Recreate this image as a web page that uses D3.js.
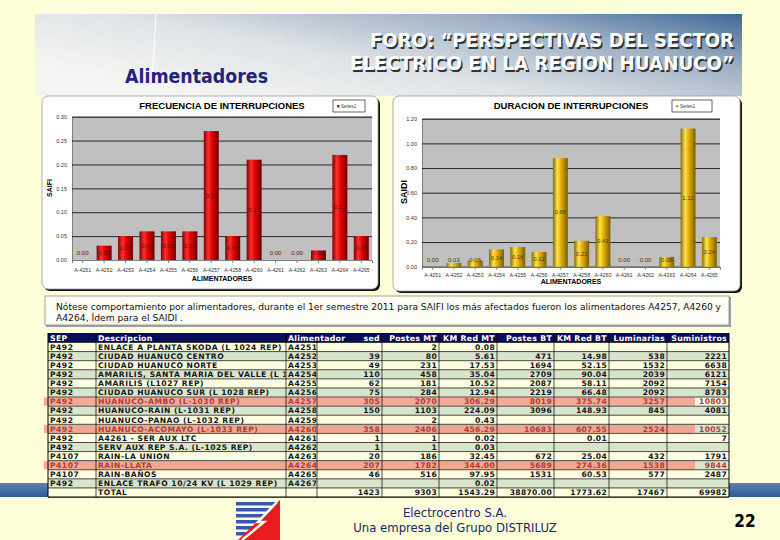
<!DOCTYPE html>
<html>
<head>
<meta charset="utf-8">
<script src="https://cdn.jsdelivr.net/npm/d3@7"></script>
<style>
  body { margin: 0; background: #fefed8; }
  svg { display: block; }
</style>
</head>
<body>
<div id="slide"></div>
<script>
// Chart data
const feeders = ["A-4251", "A-4252", "A-4253", "A-4254", "A-4255", "A-4256", "A-4257",
                 "A-4258", "A-4260", "A-4261", "A-4262", "A-4263", "A-4264", "A-4265"];
const saifi = [0.00, 0.03, 0.05, 0.06, 0.06, 0.06, 0.27, 0.05, 0.21, 0.00, 0.00, 0.02, 0.22, 0.05];
const saidi = [0.00, 0.03, 0.05, 0.14, 0.16, 0.12, 0.88, 0.21, 0.41, 0.00, 0.00, 0.08, 1.12, 0.24];
const saifiTicks = [0, 0.05, 0.10, 0.15, 0.20, 0.25, 0.30];
const saidiTicks = [0, 0.20, 0.40, 0.60, 0.80, 1.00, 1.20];

// Table data
const tableHeader = ["SEP", "Descripcion", "Alimentador", "sed", "Postes MT", "KM Red MT",
                     "Postes BT", "KM Red BT", "Luminarias", "Suministros"];
const sepCol = ["P492", "P492", "P492", "P492", "P492", "P492", "P492", "P492", "P492", "P492",
                "P492", "P492", "P4107", "P4107", "P4107", "P492"];
const descCol = ["ENLACE A PLANTA SKODA (L 1024 REP)", "CIUDAD HUANUCO CENTRO", "CIUDAD HUANUCO NORTE",
                 "AMARILIS, SANTA MARIA DEL VALLE (L 1", "AMARILIS (L1027 REP)", "CIUDAD HUANUCO SUR (L 1028 REP)",
                 "HUANUCO-AMBO (L-1030 REP)", "HUANUCO-RAIN (L-1031 REP)", "HUANUCO-PANAO (L-1032 REP)",
                 "HUANUCO-ACOMAYO (L-1033 REP)", "A4261 - SER AUX LTC", "SERV AUX REP S.A. (L-1025 REP)",
                 "RAIN-LA UNION", "RAIN-LLATA", "RAIN-BAÑOS", "ENLACE TRAFO 10/24 KV (L 1029 REP)"];
const alimCol = ["A4251", "A4252", "A4253", "A4254", "A4255", "A4256", "A4257", "A4258", "A4259",
                 "A4260", "A4261", "A4262", "A4263", "A4264", "A4265", "A4267"];
const sedCol = ["", "39", "49", "110", "62", "75", "305", "150", "", "358", "1", "1", "20", "207", "46", ""];
const postesMT = ["2", "80", "231", "458", "181", "284", "2070", "1103", "2", "2406", "1", "1", "186", "1782", "516", ""];
const kmMT = ["0.08", "5.61", "17.53", "35.04", "10.52", "12.94", "306.29", "224.09", "0.43", "456.29",
              "0.02", "0.03", "32.45", "344.00", "97.95", "0.02"];
const postesBT = ["", "471", "1694", "2709", "2087", "2219", "8019", "3096", "", "10683", "", "", "672", "5689", "1531", ""];
const kmBT = ["", "14.98", "52.15", "90.04", "58.11", "66.48", "375.74", "148.93", "", "607.55",
              "0.01", "", "25.04", "274.36", "60.53", ""];
const lumin = ["", "538", "1532", "2039", "2092", "2092", "3257", "845", "", "2524", "", "", "432", "1538", "577", ""];
const sumin = ["", "2221", "6638", "6121", "7154", "8783", "10803", "4081", "", "10052", "7", "", "1791", "9844", "2487", ""];
const totalRow = ["", "TOTAL", "", "1423", "9303", "1543.29", "38870.00", "1773.62", "17467", "69982"];
const highlightRows = [6, 9, 13];

const W = 780, H = 540;
const svg = d3.select("#slide").append("svg").attr("width", W).attr("height", H);
const defs = svg.append("defs");

// Background
svg.append("rect").attr("width", W).attr("height", H).attr("fill", "#fefed8");

// Header gradient band
const hg = defs.append("linearGradient").attr("id", "hdr")
  .attr("x1", "0%").attr("y1", "60%").attr("x2", "100%").attr("y2", "0%");
hg.append("stop").attr("offset", "0%").attr("stop-color", "#f4f5f2");
hg.append("stop").attr("offset", "35%").attr("stop-color", "#dfe3e6");
hg.append("stop").attr("offset", "70%").attr("stop-color", "#9fb1c6");
hg.append("stop").attr("offset", "100%").attr("stop-color", "#3f6897");
svg.append("rect").attr("x", 35).attr("y", 14).attr("width", 707).attr("height", 82).attr("fill", "url(#hdr)");
svg.append("line").attr("x1", 156).attr("y1", 14).attr("x2", 152).attr("y2", 82)
  .attr("stroke", "#ffffff").attr("stroke-width", 1);

svg.append("text").attr("x", 125).attr("y", 83)
  .attr("font-family", "DejaVu Sans Condensed").attr("font-weight", "bold").attr("font-size", 19)
  .attr("fill", "#22237a").attr("textLength", 143).attr("lengthAdjust", "spacingAndGlyphs")
  .text("Alimentadores");

const titleLines = ["FORO: \u201CPERSPECTIVAS DEL SECTOR", "ELECTRICO EN LA REGION HUANUCO\u201D"];
const titleLeft = [370, 350];
titleLines.forEach((t, i) => {
  const yy = 47 + i * 23;
  [[1.5, "#333333"], [0, "#ffffff"]].forEach(([off, col]) => {
    svg.append("text").attr("x", titleLeft[i] + off).attr("y", yy + off)
      .attr("font-family", "DejaVu Sans Condensed").attr("font-weight", "bold").attr("font-size", 19.5)
      .attr("fill", col).attr("textLength", 734 - titleLeft[i]).attr("lengthAdjust", "spacingAndGlyphs")
      .text(t);
  });
});

// Bar gradients
function barGradient(id, stops) {
  const g = defs.append("linearGradient").attr("id", id)
    .attr("x1", "0%").attr("y1", "0%").attr("x2", "100%").attr("y2", "0%");
  stops.forEach(s => g.append("stop").attr("offset", s[0]).attr("stop-color", s[1]));
}
barGradient("redBar", [["0%", "#7c0000"], ["30%", "#ff3030"], ["55%", "#e30000"], ["100%", "#6e0000"]]);
barGradient("goldBar", [["0%", "#8a6800"], ["30%", "#ffe34a"], ["55%", "#e0b000"], ["100%", "#7a5c00"]]);

function drawChart(o) {
  const g = svg.append("g");
  // frame with shadow
  g.append("rect").attr("x", o.box[0] + 2).attr("y", o.box[1] + 2)
    .attr("width", o.box[2]).attr("height", o.box[3]).attr("rx", 6).attr("fill", "#111111");
  g.append("rect").attr("x", o.box[0]).attr("y", o.box[1])
    .attr("width", o.box[2]).attr("height", o.box[3]).attr("rx", 6)
    .attr("fill", "#ffffff").attr("stroke", "#9a9a9a").attr("stroke-width", 0.8);

  const x = d3.scaleBand().domain(feeders).range([o.plot[0], o.plot[1]]).paddingInner(0.3).paddingOuter(0.15);
  const y = d3.scaleLinear().domain([0, d3.max(o.ticks)]).range([o.plot[3], o.plot[2]]);

  g.append("rect").attr("x", o.plot[0]).attr("y", o.plot[2])
    .attr("width", o.plot[1] - o.plot[0]).attr("height", o.plot[3] - o.plot[2]).attr("fill", "#c0c0c0");

  const yAxis = g.append("g").attr("transform", `translate(${o.plot[0]},0)`)
    .call(d3.axisLeft(y).tickValues(o.ticks).tickFormat(d3.format(".2f"))
      .tickSize(-(o.plot[1] - o.plot[0])).tickPadding(5));
  yAxis.select(".domain").attr("stroke", "#808080");
  yAxis.selectAll(".tick line").attr("stroke", "#000000").attr("stroke-width", 0.8);
  yAxis.selectAll(".tick text").attr("font-family", "Liberation Sans").attr("font-size", 5.5).attr("fill", "#333");

  const xAxis = g.append("g").attr("transform", `translate(0,${o.plot[3]})`)
    .call(d3.axisBottom(x).tickSize(3).tickPadding(o.xPad));
  xAxis.select(".domain").attr("stroke", "#808080");
  xAxis.selectAll(".tick line").attr("stroke", "#808080");
  xAxis.selectAll(".tick text").attr("font-family", "Liberation Sans").attr("font-size", 5.2).attr("fill", "#333");

  g.selectAll(".bar").data(o.values).join("rect")
    .attr("x", (d, i) => x(feeders[i]))
    .attr("y", d => y(d))
    .attr("width", x.bandwidth())
    .attr("height", d => y(0) - y(d))
    .attr("fill", o.fill);

  g.selectAll(".val").data(o.values).join("text")
    .attr("x", (d, i) => x(feeders[i]) + x.bandwidth() / 2)
    .attr("y", d => Math.min(y(d / 2), y(0) - 7) + 2)
    .attr("text-anchor", "middle")
    .attr("font-family", "Liberation Sans").attr("font-size", 6)
    .attr("fill", o.labelColor)
    .text(d => d.toFixed(2));

  g.append("text").attr("x", (o.plot[0] + o.plot[1]) / 2).attr("y", o.box[1] + 13)
    .attr("text-anchor", "middle").attr("font-family", "Liberation Sans").attr("font-weight", "bold")
    .attr("font-size", 9.5).attr("fill", "#000").text(o.title);

  g.append("text").attr("transform", `translate(${o.yLab[0]},${o.yLab[1]}) rotate(-90)`)
    .attr("text-anchor", "middle").attr("font-family", "Liberation Sans").attr("font-weight", "bold")
    .attr("font-size", o.yLabSize).attr("fill", "#000").text(o.yTitle);

  g.append("text").attr("x", (o.plot[0] + o.plot[1]) / 2).attr("y", o.xLabY)
    .attr("text-anchor", "middle").attr("font-family", "Liberation Sans").attr("font-weight", "bold")
    .attr("font-size", 7).attr("fill", "#000").text("ALIMENTADORES");

  // legend
  g.append("rect").attr("x", o.legend[0]).attr("y", o.legend[1]).attr("width", o.legend[2]).attr("height", 12)
    .attr("fill", "#ffffff").attr("stroke", "#000").attr("stroke-width", 0.6);
  g.append("rect").attr("x", o.legend[0] + 4).attr("y", o.legend[1] + 5).attr("width", 2.5).attr("height", 2.5)
    .attr("fill", o.swatch);
  g.append("text").attr("x", o.legend[0] + 8).attr("y", o.legend[1] + 8)
    .attr("font-family", "Liberation Sans").attr("font-size", 4.5).attr("fill", "#333").text("Series1");
}

drawChart({
  box: [42, 96, 336, 193], plot: [72, 372, 116.7, 260], ticks: saifiTicks, values: saifi,
  fill: "url(#redBar)", labelColor: "#5a1010", title: "FRECUENCIA DE INTERRUPCIONES",
  yTitle: "SAIFI", yLab: [52, 188], yLabSize: 7, xLabY: 281, xPad: 5,
  legend: [333, 100, 32], swatch: "#e00000"
});
drawChart({
  box: [393, 96, 347, 195], plot: [422, 720, 118.7, 266.7], ticks: saidiTicks, values: saidi,
  fill: "url(#goldBar)", labelColor: "#4a3a00", title: "DURACION DE INTERRUPCIONES",
  yTitle: "SAIDI", yLab: [407, 192], yLabSize: 9, xLabY: 284, xPad: 4,
  legend: [672, 100, 40], swatch: "#e0b000"
});

// Note box
svg.append("rect").attr("x", 46).attr("y", 297).attr("width", 685).attr("height", 30)
  .attr("fill", "#a0a0a0");
svg.append("rect").attr("x", 45).attr("y", 296).attr("width", 684).attr("height", 29)
  .attr("fill", "#fdfdf6").attr("stroke", "#8c8c8c").attr("stroke-width", 0.8);
const noteLines = [
  "Nótese comportamiento por alimentadores, durante el 1er semestre 2011 para SAIFI los más afectados fueron los alimentadores A4257, A4260 y",
  "A4264, Ídem para el SAIDI ."
];
svg.append("text").attr("x", 56).attr("y", 310).attr("font-family", "DejaVu Sans Condensed")
  .attr("font-size", 9).attr("fill", "#111").attr("textLength", 665).attr("lengthAdjust", "spacingAndGlyphs")
  .text(noteLines[0]);
svg.append("text").attr("x", 56).attr("y", 321).attr("font-family", "DejaVu Sans Condensed")
  .attr("font-size", 9).attr("fill", "#111").attr("textLength", 127).attr("lengthAdjust", "spacingAndGlyphs")
  .text(noteLines[1]);

// Blue band behind table bottom
const bg2 = defs.append("linearGradient").attr("id", "band")
  .attr("x1", "0%").attr("y1", "0%").attr("x2", "0%").attr("y2", "100%");
bg2.append("stop").attr("offset", "0%").attr("stop-color", "#5a82b6");
bg2.append("stop").attr("offset", "100%").attr("stop-color", "#2f5a94");
svg.append("rect").attr("x", 0).attr("y", 483).attr("width", W).attr("height", 14).attr("fill", "url(#band)");

// Table
const colX = [48, 96, 286, 317, 382, 439, 497, 554, 609, 667, 729];
const headTop = 333, headH = 9.5, rowH = 9.09;
const tbl = svg.append("g");
const rows = descCol.map((d, i) => [sepCol[i], d, alimCol[i], sedCol[i], postesMT[i], kmMT[i],
                                    postesBT[i], kmBT[i], lumin[i], sumin[i]]);
rows.push(totalRow);

const rowY = i => headTop + headH + i * rowH;
tbl.append("rect").attr("x", colX[0]).attr("y", headTop).attr("width", colX[10] - colX[0]).attr("height", headH)
  .attr("fill", "#0b0b5e");
tbl.selectAll(".rowbg").data(rows).join("rect")
  .attr("x", colX[0]).attr("y", (d, i) => rowY(i))
  .attr("width", colX[10] - colX[0]).attr("height", rowH)
  .attr("fill", (d, i) => i % 2 === 0 || i === rows.length - 1 ? "#fdfde2" : "#d9e4cc");
highlightRows.forEach(i => {
  tbl.append("rect").attr("x", 44).attr("y", rowY(i) + 0.5).attr("width", 651).attr("height", rowH - 1)
    .attr("fill", "#f4a08e").attr("opacity", 0.9);
});

// clip for text per column
for (let j = 0; j < 10; j++) {
  defs.append("clipPath").attr("id", "col" + j).append("rect")
    .attr("x", colX[j] + 0.5).attr("y", headTop).attr("width", colX[j + 1] - colX[j] - 1)
    .attr("height", rowY(rows.length) - headTop);
}

// grid lines
rows.forEach((r, i) => {
  tbl.append("line").attr("x1", colX[0]).attr("x2", colX[10]).attr("y1", rowY(i)).attr("y2", rowY(i))
    .attr("stroke", "#000").attr("stroke-width", 0.7);
});
colX.forEach((cx, j) => {
  tbl.append("line").attr("x1", cx).attr("x2", cx).attr("y1", headTop).attr("y2", rowY(rows.length))
    .attr("stroke", "#000").attr("stroke-width", j === 0 || j === 10 ? 1 : 0.7);
});
tbl.append("line").attr("x1", colX[0]).attr("x2", colX[10]).attr("y1", rowY(rows.length)).attr("y2", rowY(rows.length))
  .attr("stroke", "#000").attr("stroke-width", 1.2);

function cellX(j) { return j < 3 ? colX[j] + 2 : colX[j + 1] - 2; }
tableHeader.forEach((h, j) => {
  tbl.append("text").attr("x", cellX(j)).attr("y", headTop + 7.6)
    .attr("text-anchor", j < 3 ? "start" : "end")
    .attr("font-family", "DejaVu Sans").attr("font-weight", "bold").attr("font-size", 7.8)
    .attr("letter-spacing", 0.3)
    .attr("fill", "#ffffff").text(h);
});
rows.forEach((r, i) => {
  const hl = highlightRows.includes(i);
  r.forEach((v, j) => {
    if (!v) return;
    tbl.append("text").attr("x", cellX(j)).attr("y", rowY(i) + 7.3)
      .attr("text-anchor", j < 3 ? "start" : "end")
      .attr("clip-path", `url(#col${j})`)
      .attr("font-family", "DejaVu Sans").attr("font-weight", "bold").attr("font-size", 7.6)
      .attr("letter-spacing", j < 3 ? 0.5 : 0.3)
      .attr("fill", hl ? "#b03a3a" : "#151515").text(v);
  });
});

// Footer logo
const logo = svg.append("g");
[0, 1, 2, 3, 4, 5].forEach(k => {
  logo.append("rect").attr("x", 236).attr("y", 502 + k * 6).attr("width", 42 - k * 5).attr("height", 3.5)
    .attr("fill", "#3b55b0");
});
logo.append("polygon").attr("points", "280,500 280,540 238,540").attr("fill", "#e81c1c");
logo.append("polyline").attr("points", "277,502 258,522 264,522 242,540")
  .attr("fill", "none").attr("stroke", "#ffffff").attr("stroke-width", 2.5);

svg.append("text").attr("x", 455).attr("y", 517).attr("text-anchor", "middle")
  .attr("font-family", "DejaVu Sans Condensed").attr("font-size", 13).attr("fill", "#22236e")
  .text("Electrocentro S.A.");
svg.append("text").attr("x", 455).attr("y", 532).attr("text-anchor", "middle")
  .attr("font-family", "DejaVu Sans Condensed").attr("font-size", 13).attr("fill", "#22236e")
  .text("Una empresa del Grupo DISTRILUZ");
svg.append("text").attr("x", 745).attr("y", 527).attr("text-anchor", "middle")
  .attr("font-family", "DejaVu Sans Condensed").attr("font-weight", "bold").attr("font-size", 17)
  .attr("fill", "#000").text("22");
</script>
</body>
</html>
